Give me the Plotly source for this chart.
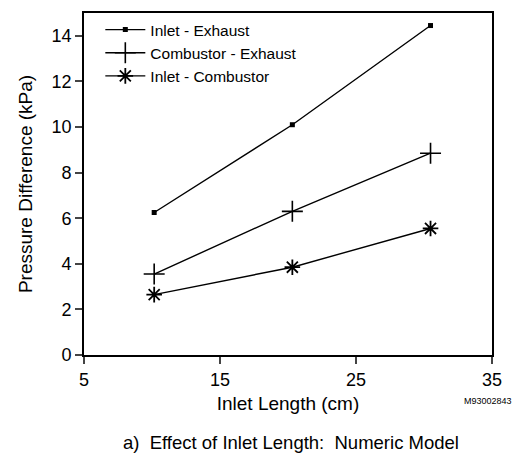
import plotly.graph_objects as go

x_len = [10.16, 20.32, 30.48]
inlet_exhaust = [6.25, 10.1, 14.45]
combustor_exhaust = [3.55, 6.3, 8.85]
inlet_combustor = [2.65, 3.85, 5.55]
series_names = ["Inlet - Exhaust", "Combustor - Exhaust", "Inlet - Combustor"]
x_ticks = [5, 15, 25, 35]
y_ticks = [0, 2, 4, 6, 8, 10, 12, 14]

font = "Liberation Sans, Arial, sans-serif"
fig = go.Figure()
fig.add_trace(go.Scatter(x=x_len, y=inlet_exhaust, name=series_names[0], mode="lines+markers",
                         line=dict(color="black", width=1.4),
                         marker=dict(symbol="square", size=5, color="black")))
fig.add_trace(go.Scatter(x=x_len, y=combustor_exhaust, name=series_names[1], mode="lines+markers",
                         line=dict(color="black", width=1.4),
                         marker=dict(symbol="cross-thin", size=15, line=dict(color="black", width=1.6))))
fig.add_trace(go.Scatter(x=x_len, y=inlet_combustor, name=series_names[2], mode="lines+markers",
                         line=dict(color="black", width=1.4),
                         marker=dict(symbol="asterisk", size=13, line=dict(color="black", width=1.8))))

fig.update_layout(
    width=515, height=456,
    margin=dict(l=84, r=23, t=11, b=101),
    plot_bgcolor="white", paper_bgcolor="white",
    font=dict(family=font, color="black", size=16),
    showlegend=True,
    legend=dict(x=0.04, y=1.0, xanchor="left", yanchor="top", bgcolor="rgba(0,0,0,0)",
                font=dict(size=15.5), tracegroupgap=0, itemwidth=40),
    xaxis=dict(range=[5, 35], tickvals=x_ticks, ticks="outside", ticklen=7, tickwidth=1.8,
               showline=True, linecolor="black", linewidth=1.8, mirror=True, showgrid=False,
               zeroline=False, tickfont=dict(size=18),
               title=dict(text="Inlet Length (cm)", standoff=8, font=dict(size=19))),
    yaxis=dict(range=[0, 15], tickvals=y_ticks, ticks="outside", ticklen=7, tickwidth=1.8,
               showline=True, linecolor="black", linewidth=1.8, mirror=True, showgrid=False,
               zeroline=False, tickfont=dict(size=18),
               title=dict(text="Pressure Difference (kPa)", standoff=14, font=dict(size=19))),
)
fig.add_annotation(text="M93002843", xref="paper", yref="paper", x=1.053, y=-0.135,
                   xanchor="right", yanchor="middle", showarrow=False, font=dict(size=9))
fig.add_annotation(text="a)  Effect of Inlet Length:  Numeric Model", xref="paper", yref="paper",
                   x=0.507, y=-0.255, xanchor="center", yanchor="middle", showarrow=False,
                   font=dict(size=18.5))
fig.write_html("out.html")
